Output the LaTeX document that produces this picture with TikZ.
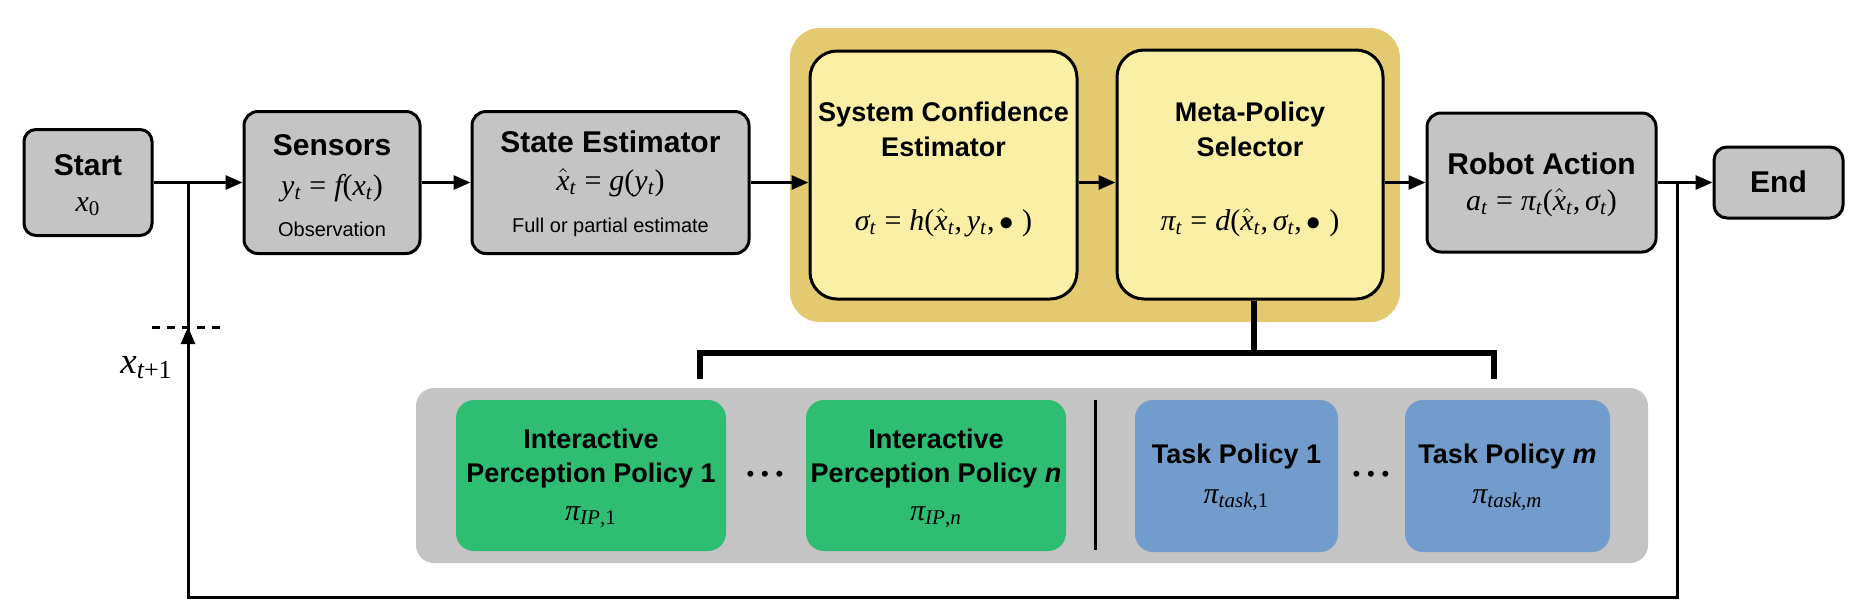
\documentclass[tikz,border=0pt]{standalone}
\usepackage[no-math]{fontspec}
\setmainfont{Liberation Sans}
\newfontfamily\tmsfam[NFSSFamily=tmsx]{Liberation Serif}
\DeclareSymbolFont{tmsletters}{TU}{tmsx}{m}{it}
\DeclareSymbolFont{tmsup}{TU}{tmsx}{m}{n}
\newcount\mycnt
\mycnt=`a
\loop \Umathcode\mycnt=7 \symtmsletters \mycnt \advance\mycnt by 1 \ifnum\mycnt<`\{ \repeat
\mycnt=`A
\loop \Umathcode\mycnt=7 \symtmsletters \mycnt \advance\mycnt by 1 \ifnum\mycnt<`\[ \repeat
\mycnt=`0
\loop \Umathcode\mycnt=7 \symtmsup \mycnt \advance\mycnt by 1 \ifnum\mycnt<`\: \repeat
\Umathcode`(=4 \symtmsup `(
\Umathcode`)=5 \symtmsup `)
\Umathcode`==3 \symtmsup `=
\Umathcode`+=2 \symtmsup `+
\Umathcode`,=6 \symtmsup `,
\Umathchardef\pi=0 \symtmsletters "03C0
\Umathchardef\sigma=0 \symtmsletters "03C3
\usetikzlibrary{arrows.meta}
\definecolor{boxgray}{RGB}{196,196,196}
\definecolor{goldout}{RGB}{227,201,111}
\definecolor{yellowin}{RGB}{250,239,164}
\definecolor{polgreen}{RGB}{46,189,115}
\definecolor{polblue}{RGB}{114,156,203}
\definecolor{contgray}{RGB}{196,196,196}
\begin{document}
\begin{tikzpicture}[x=0.5pt,y=-0.5pt,
  graybox/.style={draw=black, line width=1.5pt, fill=boxgray, rounded corners=7pt, inner sep=0pt},
  ybox/.style={draw=black, line width=1.5pt, fill=yellowin, rounded corners=13.5pt, inner sep=0pt},
  greenbox/.style={fill=polgreen, rounded corners=9pt, inner sep=0pt},
  bluebox/.style={fill=polblue, rounded corners=9pt, inner sep=0pt},
  bigtitle/.style={font=\fontsize{15}{18}\selectfont\bfseries, inner sep=0pt, anchor=base},
  smtitle/.style={font=\fontsize{13.5}{17}\selectfont\bfseries, inner sep=0pt, anchor=base},
  mathtxt/.style={font=\fontsize{15}{18}\selectfont, inner sep=0pt, anchor=base},
  smalltxt/.style={font=\fontsize{10}{12}\selectfont, inner sep=0pt, anchor=base},
  dotstxt/.style={font=\fontsize{11}{12}\selectfont, inner sep=0pt},
  conn/.style={line width=1.5pt},
  arr/.style={line width=1.5pt, -{Triangle[length=8.5pt,width=7pt]}},
  bracketline/.style={line width=3pt},
  dashline/.style={line width=1.5pt, dash pattern=on 4pt off 3.5pt}
]
\useasboundingbox (0,0) rectangle (1866,607);

% background groups
\node[fill=goldout, rounded corners=15pt, minimum width=305pt, minimum height=147pt, inner sep=0pt] (conf) at (1095,175) {};
\node[fill=contgray, rounded corners=9pt, minimum width=616pt, minimum height=87.5pt, inner sep=0pt] (cont) at (1032,475.5) {};

% main boxes
\node[graybox, rounded corners=6pt, minimum width=64pt, minimum height=53pt] (start) at (88,182.5) {};
\node[graybox, minimum width=88pt, minimum height=71pt] (sensors) at (332,182.5) {};
\node[graybox, minimum width=138.5pt, minimum height=71pt] (se) at (610.5,182.5) {};
\node[ybox, minimum width=133.5pt, minimum height=124pt] (sce) at (943.5,175) {};
\node[ybox, minimum width=133pt, minimum height=124.5pt] (mp) at (1250,174.5) {};
\node[graybox, minimum width=114.5pt, minimum height=69.5pt] (ra) at (1541.5,182.5) {};
\node[graybox, rounded corners=6.5pt, minimum width=64.5pt, minimum height=35.5pt] (end) at (1778.5,182.5) {};

% texts of main boxes
\node[bigtitle] (tstart) at (88,175) {Start};
\node[mathtxt] (mstart) at (88,211) {$x_0$};
\node[bigtitle] (tsens) at (332,155) {Sensors};
\node[mathtxt] (msens) at (332,195) {$y_t = f(x_t)$};
\node[smalltxt] (ssens) at (332,236) {Observation};
\node[bigtitle] (tse) at (610.5,152) {State Estimator};
\node[mathtxt] (mse) at (610.5,190) {$\hat{x}_t = g(y_t)$};
\node[smalltxt] (sse) at (610.5,232) {Full or partial estimate};
\node[smtitle] (tsce1) at (943.5,121) {System Confidence};
\node[smtitle] (tsce2) at (943.5,156) {Estimator};
\node[mathtxt] (msce) at (943.5,230) {$\sigma_t = h(\hat{x}_t, y_t, \bullet\ )$};
\node[smtitle] (tmp1) at (1250,121) {Meta-Policy};
\node[smtitle] (tmp2) at (1250,156) {Selector};
\node[mathtxt] (mmp) at (1250,230) {$\pi_t = d(\hat{x}_t, \sigma_t, \bullet\ )$};
\node[bigtitle] (tra) at (1541.5,174) {Robot Action};
\node[mathtxt] (mra) at (1541.5,210) {$a_t = \pi_t(\hat{x}_t, \sigma_t)$};
\node[bigtitle] (tend) at (1778.5,192) {End};

% policy boxes
\node[greenbox, minimum width=135pt, minimum height=75.5pt] (ip1) at (591,475.5) {};
\node[greenbox, minimum width=130pt, minimum height=75.5pt] (ipn) at (936,475.5) {};
\node[bluebox, minimum width=101.5pt, minimum height=76pt] (tp1) at (1236.5,476) {};
\node[bluebox, minimum width=102.5pt, minimum height=76pt] (tpm) at (1507.5,476) {};

\node[smtitle] (tip1a) at (591,448) {Interactive};
\node[smtitle] (tip1b) at (591,482) {Perception Policy 1};
\node[mathtxt] (mip1) at (591,520) {$\pi_{IP,1}$};
\node[smtitle] (tipna) at (936,448) {Interactive};
\node[smtitle] (tipnb) at (936,482) {Perception Policy \textit{n}};
\node[mathtxt] (mipn) at (936,520) {$\pi_{IP,n}$};
\node[smtitle] (ttp1) at (1236.5,463) {Task Policy 1};
\node[mathtxt] (mtp1) at (1236.5,503) {$\pi_{task,1}$};
\node[smtitle] (ttpm) at (1507.5,463) {Task Policy \textit{m}};
\node[mathtxt] (mtpm) at (1507.5,503) {$\pi_{task,m}$};

\node[dotstxt] (dots1) at (765,476) {•\hspace{3.4pt}•\hspace{3.4pt}•};
\node[dotstxt] (dots2) at (1371,476) {•\hspace{3.4pt}•\hspace{3.4pt}•};

% divider
\coordinate (dvt) at (1095,400);
\coordinate (dvb) at (1095,550);
\draw[conn] (dvt) -- (dvb);

% forward connectors
\coordinate (j1) at (188,182.5);
\coordinate (j2) at (1677,182.5);
\draw[arr] (start) -- (sensors);
\draw[arr] (sensors) -- (se);
\draw[arr] (se) -- (se -| sce.west);
\draw[arr] (sce.east |- se) -- (mp.west |- se);
\draw[arr] (mp.east |- ra) -- (ra);
\draw[arr] (ra) -- (end);

% feedback loop
\coordinate (fbR) at (1677,597);
\coordinate (fbL) at (188,597);
\coordinate (fbtip) at (188,327);
\draw[conn] (j2) -- (fbR) -- (fbL) -- (j1);
\draw[arr] (fbL) -- (fbtip);
\coordinate (dl) at (152,327);
\coordinate (dr) at (224,327);
\draw[dashline] (dl) -- (dr);
\node[font=\fontsize{18.5}{20}\selectfont, inner sep=0pt, anchor=base west] (xnext) at (120,373) {$x_{t+1}$};

% bracket to policies
\coordinate (b0) at (1254,353);
\coordinate (bl) at (699.5,353);
\coordinate (br) at (1493.5,353);
\coordinate (bld) at (699.5,379);
\coordinate (brd) at (1493.5,379);
\draw[bracketline] (mp.south -| b0) -- (b0);
\draw[bracketline] (bld) -- (bl) -- (br) -- (brd);
\end{tikzpicture}
\end{document}
